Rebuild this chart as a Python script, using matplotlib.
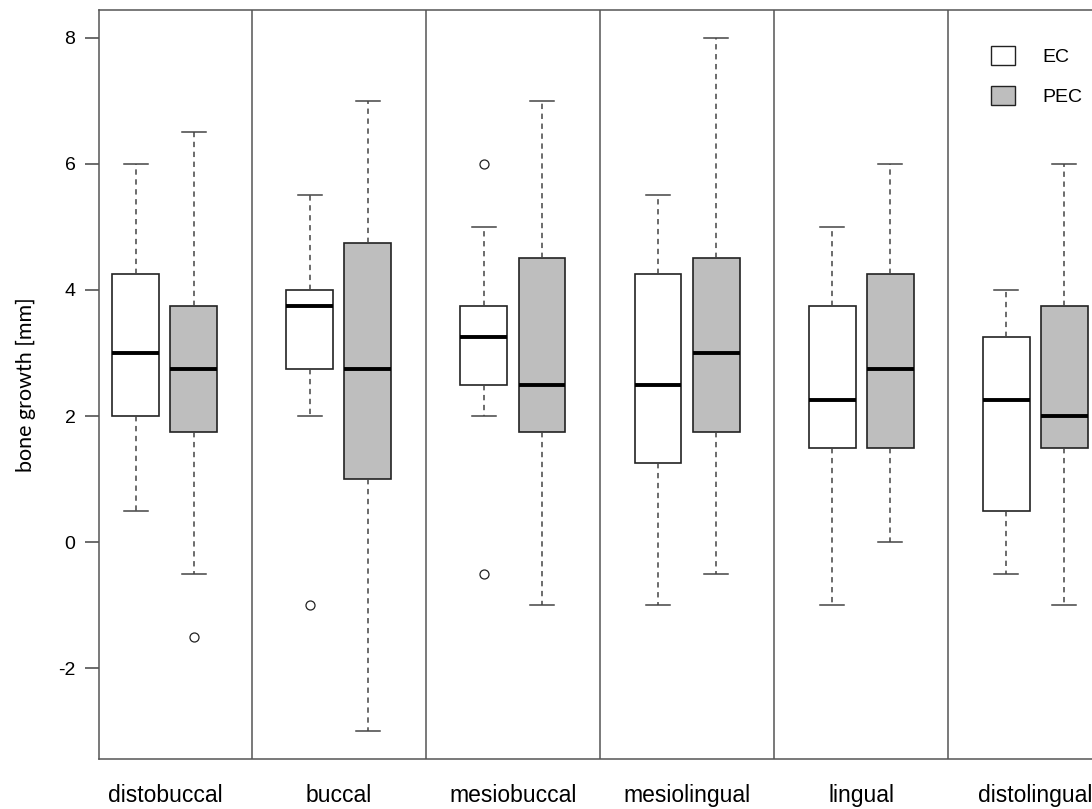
import matplotlib
matplotlib.use('Agg')
import matplotlib.pyplot as plt
from matplotlib.patches import Patch

SITES = ['distobuccal', 'buccal', 'mesiobuccal', 'mesiolingual', 'lingual', 'distolingual']

# five-number summaries: lower whisker, Q1, median, Q3, upper whisker
EC_LO = [0.5, 2.0, 2.0, -1.0, -1.0, -0.5]
EC_Q1 = [2.0, 2.75, 2.5, 1.25, 1.5, 0.5]
EC_MED = [3.0, 3.75, 3.25, 2.5, 2.25, 2.25]
EC_Q3 = [4.25, 4.0, 3.75, 4.25, 3.75, 3.25]
EC_HI = [6.0, 5.5, 5.0, 5.5, 5.0, 4.0]
EC_OUT = [[], [-1.0], [6.0, -0.5], [], [], []]

PEC_LO = [-0.5, -3.0, -1.0, -0.5, 0.0, -1.0]
PEC_Q1 = [1.75, 1.0, 1.75, 1.75, 1.5, 1.5]
PEC_MED = [2.75, 2.75, 2.5, 3.0, 2.75, 2.0]
PEC_Q3 = [3.75, 4.75, 4.5, 4.5, 4.25, 3.75]
PEC_HI = [6.5, 7.0, 7.0, 8.0, 6.0, 6.0]
PEC_OUT = [[-1.5], [], [], [], [], []]

Y_TICKS = [-2, 0, 2, 4, 6, 8]


def make_stats(lo, q1, med, q3, hi, out):
    return [dict(whislo=a, q1=b, med=c, q3=d, whishi=e, fliers=f)
            for a, b, c, d, e, f in zip(lo, q1, med, q3, hi, out)]


W, H = 1092, 809
fig = plt.figure(figsize=(W / 100, H / 100), dpi=100)
plt.rcParams['font.family'] = ['Liberation Sans', 'DejaVu Sans']

# axes runs off the right edge of the picture, as in the reference
left, right, bottom, top = 99, 1101, 759, 10
ax = fig.add_axes([left / W, 1 - bottom / H, (right - left) / W, (bottom - top) / H])

n = len(SITES)
centers = list(range(n))
off = 1 / 6
box_w = 0.27

common = dict(
    widths=box_w, capwidths=box_w / 2, patch_artist=True, manage_ticks=False,
    boxprops=dict(edgecolor='#222222', linewidth=1.2),
    medianprops=dict(color='black', linewidth=2.8, solid_capstyle='butt'),
    whiskerprops=dict(color='#444444', linewidth=1.1, linestyle=(0, (3.5, 3))),
    capprops=dict(color='#444444', linewidth=1.1),
    flierprops=dict(marker='o', markerfacecolor='white', markeredgecolor='#222222',
                    markersize=6.5, markeredgewidth=0.9),
)

b1 = ax.bxp(make_stats(EC_LO, EC_Q1, EC_MED, EC_Q3, EC_HI, EC_OUT),
            positions=[c - off for c in centers], **common)
b2 = ax.bxp(make_stats(PEC_LO, PEC_Q1, PEC_MED, PEC_Q3, PEC_HI, PEC_OUT),
            positions=[c + off for c in centers], **common)
for p in b1['boxes']:
    p.set_facecolor('white')
for p in b2['boxes']:
    p.set_facecolor('#bebebe')

# separators between sites
for c in centers[:-1]:
    ax.axvline(c + 0.5, color='#555555', linewidth=1.1)

ax.set_xlim(-0.379, n - 1 + 0.379)
ax.set_ylim(-3.44, 8.44)

ax.set_xticks(centers)
ax.set_xticklabels(SITES, fontsize=16.5)
ax.tick_params(axis='x', length=0, pad=18)
ax.set_yticks(Y_TICKS)
ax.set_yticklabels([str(t) for t in Y_TICKS], fontsize=14)
ax.tick_params(axis='y', length=10, width=1.1, color='#444444', pad=7)

for s in ax.spines.values():
    s.set_color('#555555')
    s.set_linewidth(1.1)

ax.set_ylabel('bone growth [mm]', fontsize=15.5, family=['Lato', 'DejaVu Sans'], labelpad=16)

handles = [Patch(facecolor='white', edgecolor='#222222', linewidth=1.0, label='EC'),
           Patch(facecolor='#bebebe', edgecolor='#222222', linewidth=1.0, label='PEC')]
ax.legend(handles=handles, loc='upper left', bbox_to_anchor=(973 / W, 1 - 28 / H),
          bbox_transform=fig.transFigure, frameon=False, fontsize=14,
          handlelength=1.24, handleheight=1.13, labelspacing=1.03, handletextpad=1.43)

fig.savefig('out.png', dpi=100)
